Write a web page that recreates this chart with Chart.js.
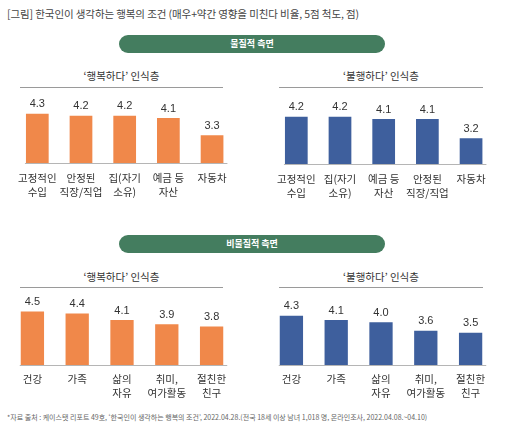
<!DOCTYPE html>
<html><head><meta charset="utf-8">
<script src="https://cdn.jsdelivr.net/npm/chart.js@4.4.1/dist/chart.umd.min.js"></script>
<style>
html,body{margin:0;padding:0;background:#fff;width:512px;height:433px;overflow:hidden;}
body{position:relative;font-family:"Noto Sans CJK KR","Noto Sans",sans-serif;color:#333;}
.abs{position:absolute;}
.title{left:7px;top:6px;font-size:10.5px;color:#444;white-space:nowrap;letter-spacing:-0.1px;}
.pill{left:119px;width:266px;height:18px;border-radius:9px;background:#447d5f;color:#fff;font-size:9px;font-weight:bold;text-align:center;line-height:18px;}
.sub{font-size:10.5px;color:#333;text-align:center;white-space:nowrap;}
.sep{height:1px;background:#9a9a9a;}
.foot{left:7px;top:412px;font-size:7px;color:#666;white-space:nowrap;letter-spacing:0px;}
canvas{position:absolute;}
</style></head>
<body>
<div class="abs title">[그림] 한국인이 생각하는 행복의 조건 (매우+약간 영향을 미친다 비율, 5점 척도, 점)</div>
<div class="abs pill" style="top:35px;">물질적 측면</div>
<div class="abs pill" style="top:235px;">비물질적 측면</div>

<div class="abs sub" style="left:20px;width:203px;top:68px;">‘행복하다’ 인식층</div>
<div class="abs sep" style="left:20px;width:203px;top:87px;"></div>
<div class="abs sub" style="left:279px;width:204px;top:68px;">‘불행하다’ 인식층</div>
<div class="abs sep" style="left:279px;width:204px;top:87px;"></div>
<div class="abs sub" style="left:20px;width:203px;top:269px;">‘행복하다’ 인식층</div>
<div class="abs sep" style="left:20px;width:203px;top:287px;"></div>
<div class="abs sub" style="left:279px;width:204px;top:269px;">‘불행하다’ 인식층</div>
<div class="abs sep" style="left:279px;width:204px;top:287px;"></div>

<canvas id="c1" width="224" height="120" style="left:10px;top:88px;width:224px;height:120px;"></canvas>
<canvas id="c2" width="224" height="120" style="left:269px;top:89px;width:224px;height:120px;"></canvas>
<canvas id="c3" width="224" height="120" style="left:10px;top:290px;width:224px;height:120px;"></canvas>
<canvas id="c4" width="224" height="120" style="left:269px;top:290px;width:224px;height:120px;"></canvas>

<div class="abs foot">*자료 출처 : 케이스탯 리포트 49호, ‘한국인이 생각하는 행복의 조건’, 2022.04.28.(전국 18세 이상 남녀 1,018 명, 온라인조사, 2022.04.08.~04.10)</div>

<script>
const catsHappyMat = [['고정적인','수입'],['안정된','직장/직업'],['집(자기','소유)'],['예금 등','자산'],['자동차']];
const valsHappyMat = [4.3, 4.2, 4.2, 4.1, 3.3];
const catsUnhappyMat = [['고정적인','수입'],['집(자기','소유)'],['예금 등','자산'],['안정된','직장/직업'],['자동차']];
const valsUnhappyMat = [4.2, 4.2, 4.1, 4.1, 3.2];
const catsHappyNon = [['건강'],['가족'],['삶의','자유'],['취미,','여가활동'],['절친한','친구']];
const valsHappyNon = [4.5, 4.4, 4.1, 3.9, 3.8];
const catsUnhappyNon = [['건강'],['가족'],['삶의','자유'],['취미,','여가활동'],['절친한','친구']];
const valsUnhappyNon = [4.3, 4.1, 4.0, 3.6, 3.5];
const yMin = 2, yMax = 5.5;

const ORANGE = '#f0884a';
const BLUE = '#3e5f9d';

const labelPlugin = {
  id: 'valLabels',
  afterDatasetsDraw(chart) {
    const ctx = chart.ctx;
    const meta = chart.getDatasetMeta(0);
    const data = chart.data.datasets[0].data;
    ctx.save();
    const first = meta.data[0], last = meta.data[meta.data.length - 1];
    const y0 = Math.round(chart.chartArea.bottom) + 0.5;
    ctx.strokeStyle = '#b5b5b5';
    ctx.lineWidth = 1;
    ctx.beginPath();
    ctx.moveTo(first.x - first.width / 2 - 1, y0);
    ctx.lineTo(last.x + last.width / 2 + 4, y0);
    ctx.stroke();
    ctx.fillStyle = '#333';
    ctx.font = '11px "Liberation Sans", Arial, sans-serif';
    ctx.textAlign = 'center';
    ctx.textBaseline = 'bottom';
    meta.data.forEach((el, i) => {
      ctx.fillText(data[i].toFixed(1), el.x, el.y - 4);
    });
    ctx.restore();
  }
};

function makeChart(id, cats, vals, color, pad) {
  new Chart(document.getElementById(id), {
    type: 'bar',
    data: { labels: cats, datasets: [{ data: vals, backgroundColor: color, borderWidth: 0,
      categoryPercentage: 1, barPercentage: 0.52 }] },
    options: {
      responsive: false, animation: false,
      layout: { padding: 0 },
      plugins: { legend: { display: false }, tooltip: { enabled: false }, title: { display: false } },
      scales: {
        y: { display: false, min: yMin, max: yMax },
        x: {
          grid: { display: false, drawTicks: false },
          border: { display: false },
          ticks: { color: '#333', padding: pad, maxRotation: 0, autoSkip: false,
            font: { family: '"Noto Sans CJK KR", sans-serif', size: 10.5, lineHeight: 1.35 } },
          afterFit(scale) { scale.height = 45; }
        }
      }
    },
    plugins: [labelPlugin]
  });
}
makeChart('c1', catsHappyMat, valsHappyMat, ORANGE, 8);
makeChart('c2', catsUnhappyMat, valsUnhappyMat, BLUE, 8);
makeChart('c3', catsHappyNon, valsHappyNon, ORANGE, 7);
makeChart('c4', catsUnhappyNon, valsUnhappyNon, BLUE, 7);
</script>
</body></html>
